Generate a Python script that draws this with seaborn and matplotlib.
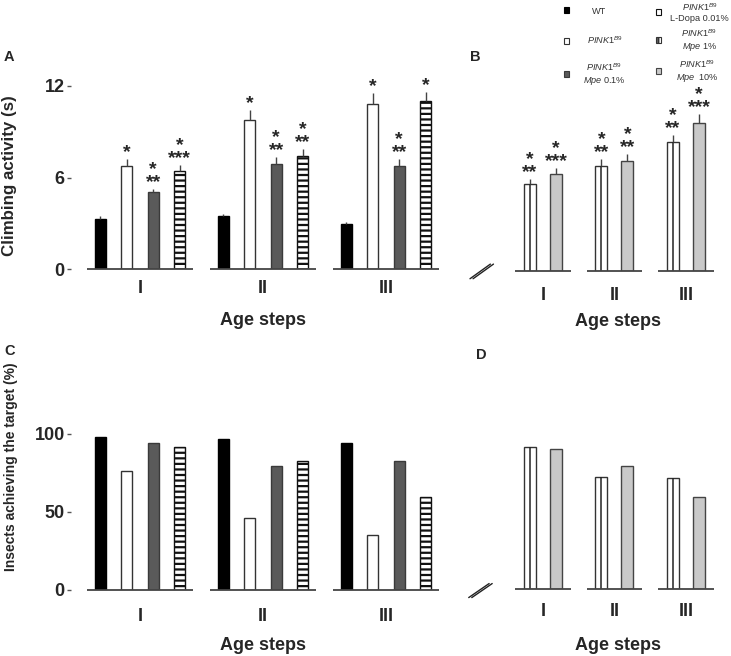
import numpy as np
import pandas as pd
import matplotlib
matplotlib.use("Agg")
import matplotlib.pyplot as plt
import seaborn as sns
from matplotlib.patches import Patch

# ---------------- data ----------------
ages = ["I", "II", "III"]
groups_a = ["WT", "PINK1", "Mpe 0.1%", "L-Dopa 0.01%"]
groups_b = ["Mpe 1%", "Mpe 10%"]

# Panel A: climbing activity (s)
climb_wt = [3.3, 3.5, 2.95]
climb_pink1 = [6.75, 9.8, 10.8]
climb_mpe01 = [5.05, 6.9, 6.75]
climb_ldopa = [6.43, 7.4, 11.0]
err_wt = [0.15, 0.1, 0.15]
err_pink1 = [0.45, 0.65, 0.75]
err_mpe01 = [0.2, 0.45, 0.45]
err_ldopa = [0.4, 0.45, 0.6]
star_wt = ["", "", ""]
star_pink1 = ["*", "*", "*"]
star_mpe01 = ["*\n**", "*\n**", "*\n**"]
star_ldopa = ["*\n***", "*\n**", "*"]

# Panel B: climbing activity (s)
climb_mpe1 = [5.69, 6.85, 8.44]
climb_mpe10 = [6.34, 7.17, 9.64]
err_mpe1 = [0.33, 0.48, 0.44]
err_mpe10 = [0.4, 0.46, 0.63]
star_mpe1 = ["*\n**", "*\n**", "*\n**"]
star_mpe10 = ["*\n***", "*\n**", "*\n***"]

# Panel C: insects achieving the target (%)
pct_wt = [98, 97, 94]
pct_pink1 = [76, 46, 35]
pct_mpe01 = [94, 79.5, 82.5]
pct_ldopa = [91.5, 82.5, 59.5]

# Panel D: insects achieving the target (%)
pct_mpe1 = [91, 72, 71]
pct_mpe10 = [90, 79, 59]

# ---------------- style ----------------
sns.set_theme(style="white")
plt.rcParams["font.family"] = ["Liberation Sans", "DejaVu Sans"]
plt.rcParams["font.weight"] = "bold"
plt.rcParams["mathtext.fontset"] = "custom"
plt.rcParams["mathtext.it"] = "Liberation Sans:style=italic:weight=normal"
plt.rcParams["mathtext.rm"] = "Liberation Sans:weight=normal"
plt.rcParams["hatch.linewidth"] = 1.6
plt.rcParams["hatch.color"] = "black"

colors = {"WT": "#000000", "PINK1": "#ffffff", "Mpe 0.1%": "#5a5a5a",
          "L-Dopa 0.01%": "#ffffff", "Mpe 1%": "#ffffff", "Mpe 10%": "#c9c9c9"}
hatches = {"WT": None, "PINK1": None, "Mpe 0.1%": None,
           "L-Dopa 0.01%": "---", "Mpe 1%": None, "Mpe 10%": None}
leg_hatches = {"WT": None, "PINK1": None, "Mpe 0.1%": None,
               "L-Dopa 0.01%": "-", "Mpe 1%": "|", "Mpe 10%": None}
edges = {"WT": "#000000", "PINK1": "#333333", "Mpe 0.1%": "#3a3a3a",
         "L-Dopa 0.01%": "#111111", "Mpe 1%": "#333333", "Mpe 10%": "#444444"}

W, H = 731, 656
fig = plt.figure(figsize=(W / 100, H / 100), dpi=100)


def fx(px):
    return px / W


def fy(py):
    return 1 - py / H


def long_df(groups, series):
    rows = []
    for g, vals in zip(groups, series):
        for a, v in zip(ages, vals):
            rows.append({"age": a, "group": g, "value": v})
    return pd.DataFrame(rows)


def draw_panel(ax, groups, series, width, gap, half, errs=None, stars=None,
               centre_line=None):
    df = long_df(groups, series)
    sns.barplot(data=df, x="age", y="value", hue="group", order=ages,
                hue_order=groups, palette=colors, width=width, gap=gap,
                errorbar=None, legend=False, ax=ax, linewidth=1,
                saturation=1)
    for cont, g in zip(ax.containers, groups):
        xs, tops = [], []
        for bar in cont:
            if hatches[g]:
                bar.set_hatch(hatches[g])
            bar.set_edgecolor(edges[g])
            xs.append(bar.get_x() + bar.get_width() / 2)
            tops.append(bar.get_height())
        if g == centre_line:
            ax.vlines(xs, 0, tops, color="#222222", lw=1.1, zorder=3)
        if errs is not None:
            e = errs[groups.index(g)]
            ax.errorbar(xs, tops, yerr=[np.zeros(len(e)), e], fmt="none",
                        ecolor="#444444", elinewidth=1, capsize=0, zorder=3)
            for x, t, ee, s in zip(xs, tops, e, stars[groups.index(g)]):
                if s:
                    ax.annotate(s, (x, t + ee), xytext=(0, -1.5),
                                textcoords="offset points", ha="center",
                                va="bottom", fontsize=14, fontweight="bold",
                                linespacing=0.7, annotation_clip=False)
    for k in range(len(ages)):
        ax.hlines(0, k - half, k + half, color="#444444", lw=1.3,
                  clip_on=False, zorder=4)
    sns.despine(ax=ax, left=True, bottom=True)
    ax.set_xlabel("")
    ax.set_ylabel("")
    ax.tick_params(axis="x", length=0, labelsize=13)


def break_mark(ax, x0, y0, x1, y1, dx):
    for off in (0, dx):
        ax.plot([x0 + off, x1 + off], [y0, y1], transform=ax.transAxes,
                color="#222222", lw=1, clip_on=False)


# ---------------- panel A ----------------
axA = fig.add_axes([fx(71), fy(269), 374 / W, 183 / H])
draw_panel(axA, groups_a, [climb_wt, climb_pink1, climb_mpe01, climb_ldopa],
           width=0.862, gap=0.585, half=0.43,
           errs=[err_wt, err_pink1, err_mpe01, err_ldopa],
           stars=[star_wt, star_pink1, star_mpe01, star_ldopa])
axA.set_xlim(-0.561, 2.48)
axA.set_ylim(0, 12)
axA.set_yticks([0, 6, 12])
axA.tick_params(axis="y", left=True, length=3, width=1, color="#555555",
                labelsize=13, pad=1.5)
axA.tick_params(axis="x", pad=8)

# ---------------- panel B ----------------
axB = fig.add_axes([fx(470), fy(270.5), 255 / W, 183 / H])
draw_panel(axB, groups_b, [climb_mpe1, climb_mpe10],
           width=0.727, gap=0.538, half=0.39,
           errs=[err_mpe1, err_mpe10], stars=[star_mpe1, star_mpe10],
           centre_line="Mpe 1%")
axB.set_xlim(-1.02, 2.545)
axB.set_ylim(0, 12)
axB.set_yticks([])
axB.tick_params(axis="x", pad=12)
break_mark(axB, 0.0, -0.045, 0.08, 0.035, 0.012)

# ---------------- panel C ----------------
axC = fig.add_axes([fx(71), fy(590), 374 / W, 156 / H])
draw_panel(axC, groups_a, [pct_wt, pct_pink1, pct_mpe01, pct_ldopa],
           width=0.862, gap=0.585, half=0.43)
axC.set_xlim(-0.561, 2.48)
axC.set_ylim(0, 100)
axC.set_yticks([0, 50, 100])
axC.tick_params(axis="y", left=True, length=3, width=1, color="#555555",
                labelsize=13, pad=1.5)
axC.tick_params(axis="x", pad=13)

# ---------------- panel D ----------------
axD = fig.add_axes([fx(470), fy(589), 255 / W, 156 / H])
draw_panel(axD, groups_b, [pct_mpe1, pct_mpe10],
           width=0.727, gap=0.538, half=0.39, centre_line="Mpe 1%")
axD.set_xlim(-1.02, 2.545)
axD.set_ylim(0, 100)
axD.set_yticks([])
axD.tick_params(axis="x", pad=10)
break_mark(axD, -0.005, -0.055, 0.075, 0.035, 0.012)

# ---------------- texts ----------------
for lab, x, y in [("A", 9, 57), ("B", 475, 57), ("C", 9.5, 351), ("D", 481, 355)]:
    fig.text(fx(x), fy(y), lab, fontsize=10.5, fontweight="bold",
             ha="center", va="center")
fig.text(fx(10), fy(176), "Climbing activity (s)", rotation=90, fontsize=12.2,
         fontweight="bold", ha="center", va="center")
fig.text(fx(11), fy(467), "Insects achieving the target (%)", rotation=90,
         fontsize=10, fontweight="bold", ha="center", va="center")
for x, y in [(263, 321), (618, 322), (263, 645), (618, 645)]:
    fig.text(fx(x), fy(y), "Age steps", fontsize=13, fontweight="bold",
             ha="center", va="center")

# ---------------- legend ----------------
pk = r"$\mathit{PINK1}^{\mathit{B9}}$"
leg_groups = ["WT", "PINK1", "Mpe 0.1%", "L-Dopa 0.01%", "Mpe 1%", "Mpe 10%"]
leg_labels = ["WT", pk, pk + "\n" + r"$\mathit{Mpe}$ 0.1%",
              pk + "\nL-Dopa 0.01%", pk + "\n" + r"$\mathit{Mpe}$ 1%",
              pk + "\n" + r"$\mathit{Mpe}$  10%"]
leg_pos = [(563.5, 11), (563.5, 40), (563.5, 74),
           (655.5, 12), (655.5, 40), (655.5, 71)]
leg_pad = [2.5, 2.0, 1.5, 1.0, 2.2, 1.6]
for g, lab, (x, y), pad in zip(leg_groups, leg_labels, leg_pos, leg_pad):
    h = Patch(facecolor=colors[g], edgecolor=edges[g], hatch=leg_hatches[g],
              linewidth=0.8)
    leg = fig.legend([h], [lab], loc="center left",
                     bbox_to_anchor=(fx(x), fy(y)), frameon=False,
                     prop={"size": 6.6, "weight": "normal"},
                     handlelength=0.6, handleheight=0.6, handletextpad=pad,
                     borderpad=0, borderaxespad=0)
    for t in leg.get_texts():
        t.set_multialignment("center")
        t.set_color("#333333")

fig.savefig("out.png", dpi=100)
